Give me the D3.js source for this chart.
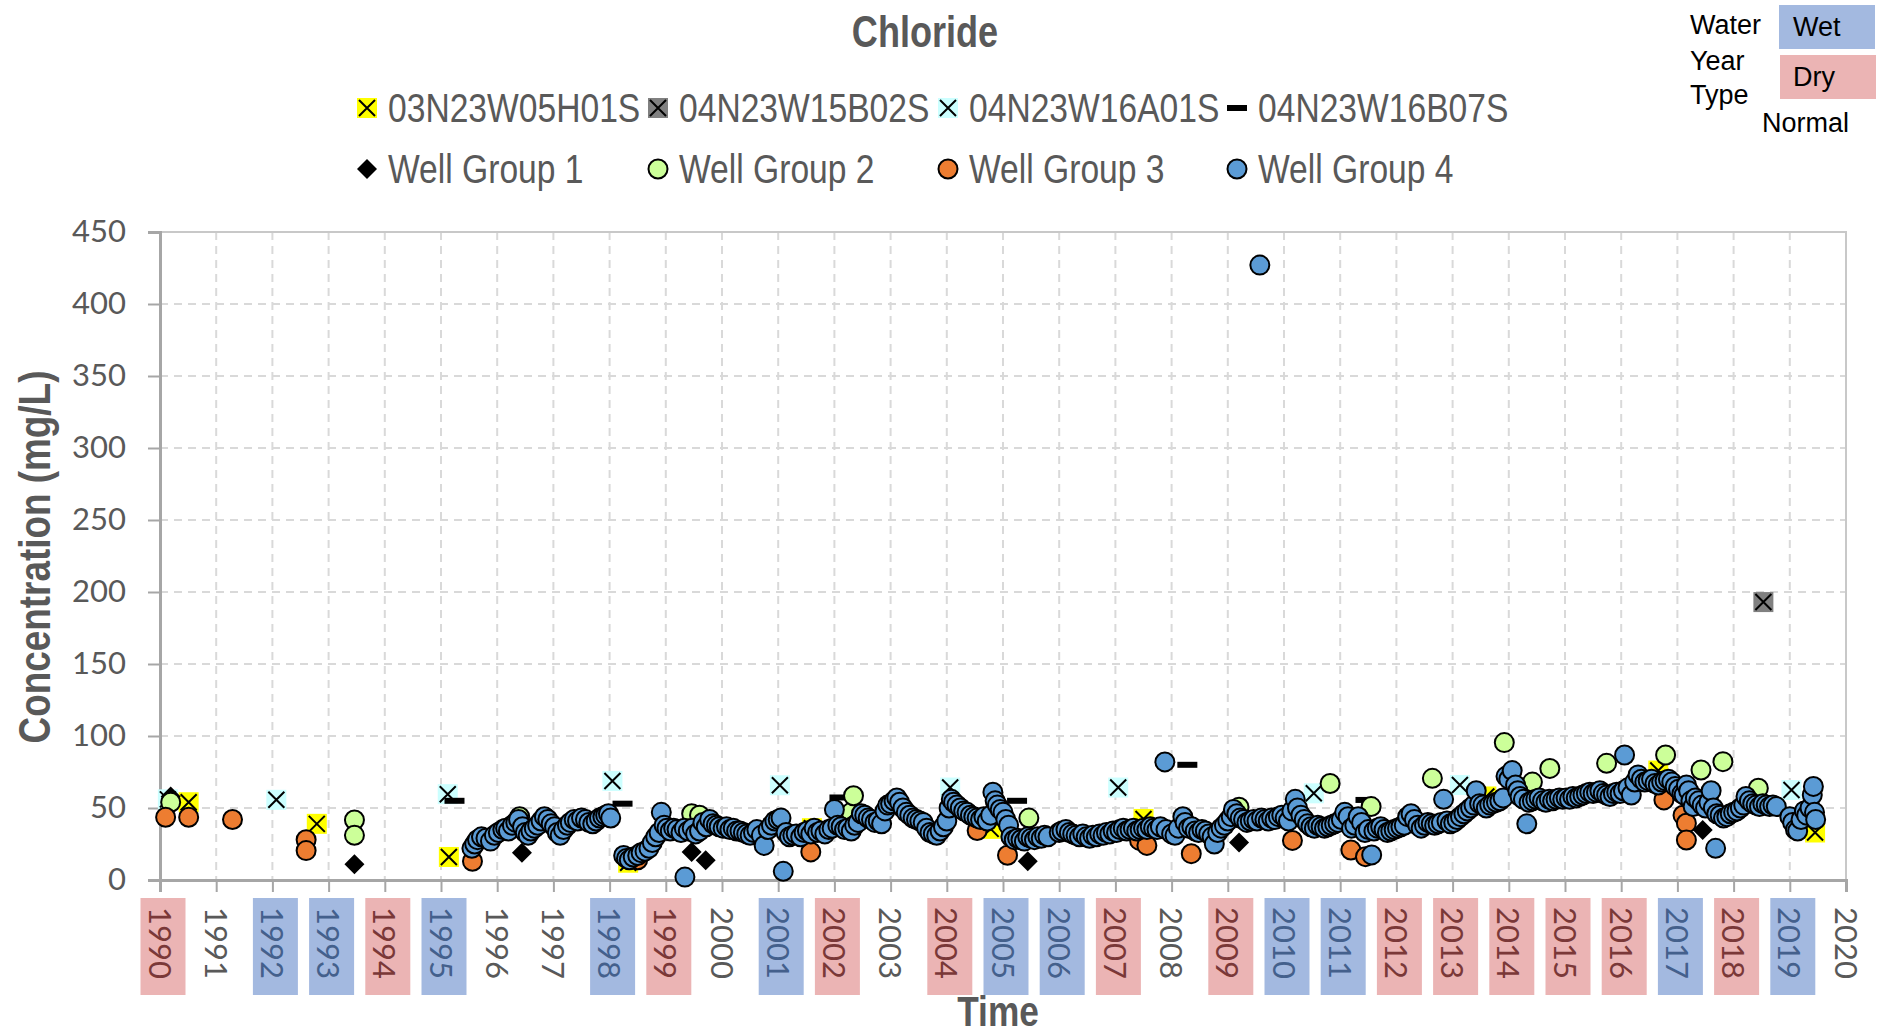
<!DOCTYPE html>
<html>
<head>
<meta charset="utf-8">
<script src="https://cdn.jsdelivr.net/npm/d3@7"></script>
<style>
  html, body { margin: 0; padding: 0; background: #fff; }
  svg { display: block; }
</style>
</head>
<body>
<svg id="chart" width="1883" height="1035"></svg>
<script>
// ---------------- DATA ----------------
const yTicks = [0, 50, 100, 150, 200, 250, 300, 350, 400, 450];
const xTickYears = d3.range(1990, 2021);
const wetYears = [1992, 1993, 1995, 1998, 2001, 2005, 2006, 2010, 2011, 2017, 2019];
const dryYears = [1990, 1994, 1999, 2002, 2004, 2007, 2009, 2012, 2013, 2014, 2015, 2016, 2018];

const seriesNames = ["03N23W05H01S", "04N23W15B02S", "04N23W16A01S", "04N23W16B07S",
  "Well Group 1", "Well Group 2", "Well Group 3", "Well Group 4"];

// [decimal year, mg/L]
const s03N23W05H01S = [[1990.51, 54], [1992.79, 39], [1995.14, 16], [1998.33, 12], [2001.6, 36],
  [2004.78, 35.5], [2007.5, 42.4], [2013.6, 58], [2016.66, 76], [2019.45, 33]];
const s04N23W15B02S = [[2018.53, 193]];
const s04N23W16A01S = [[1990.14, 56], [1992.07, 55.7], [1995.12, 59.6], [1998.05, 68.8], [2001.03, 65.8],
  [2004.06, 64.2], [2007.05, 64.2], [2010.53, 60.2], [2013.13, 66], [2019.03, 62.5]];
const s04N23W16B07S = [[1995.24, 55], [1998.23, 53], [2002.09, 57.3], [2005.25, 55], [2008.28, 80], [2011.45, 55.6]];
const wg1 = [[1990.19, 58], [1993.46, 11], [1996.44, 19], [1999.46, 19.5], [1999.71, 13.8], [2005.44, 13],
  [2009.2, 26], [2017.45, 34.7]];
const wg2 = [[1990.19, 54], [1993.46, 41.7], [1993.46, 31], [1996.4, 44], [1999.46, 46], [1999.6, 45],
  [2002.3, 47], [2002.34, 58.5], [2005.46, 43], [2009.18, 48], [2009.2, 50.5], [2010.82, 67], [2011.55, 51],
  [2012.64, 70.6], [2013.92, 95.4], [2014.42, 68], [2014.73, 77.5], [2015.74, 81], [2016.79, 86.8],
  [2017.42, 76.4], [2017.81, 82.2], [2018.44, 63.7]];
const wg3 = [[1990.1, 43.6], [1990.51, 43.6], [1991.29, 42], [1992.6, 28], [1992.6, 20.4], [1995.56, 13],
  [1998.5, 14], [2001.58, 19.5], [2004.54, 34.4], [2005.08, 17.2], [2007.43, 27.5], [2007.56, 24],
  [2008.35, 18.3], [2010.15, 27.5], [2011.19, 20.8], [2011.45, 16.2], [2016.76, 55.6], [2017.1, 45],
  [2017.16, 39.4], [2017.16, 27.8]];
const wg4 = [
  [1995.55, 22], [1995.6, 25], [1995.65, 28], [1995.72, 30], [1995.8, 29], [1995.88, 27], [1995.95, 31],
  [1996.02, 33], [1996.1, 35], [1996.15, 36], [1996.2, 34], [1996.27, 38], [1996.33, 40], [1996.38, 42],
  [1996.45, 37], [1996.5, 33], [1996.55, 31], [1996.6, 34], [1996.66, 36], [1996.72, 38], [1996.78, 41],
  [1996.84, 44], [1996.9, 42], [1996.96, 39], [1997.02, 37], [1997.07, 33], [1997.12, 31], [1997.18, 35],
  [1997.25, 38], [1997.3, 40], [1997.37, 42], [1997.43, 41], [1997.5, 43], [1997.57, 42], [1997.63, 40],
  [1997.7, 39], [1997.76, 41], [1997.82, 43], [1997.88, 44], [1997.93, 45], [1997.98, 46], [1998.02, 43],
  [1998.25, 17], [1998.3, 15], [1998.35, 14], [1998.42, 16], [1998.5, 17], [1998.56, 19], [1998.63, 20],
  [1998.7, 22], [1998.76, 26], [1998.82, 30], [1998.88, 33], [1998.92, 47], [1998.97, 38], [1999.02, 36],
  [1999.08, 34], [1999.14, 36], [1999.2, 35], [1999.27, 33], [1999.33, 36], [1999.34, 2], [1999.4, 34],
  [1999.47, 36], [1999.53, 32], [1999.6, 34], [1999.66, 40], [1999.72, 37], [1999.78, 42], [1999.84, 39],
  [1999.9, 38], [1999.95, 37],
  [2000.02, 36], [2000.08, 37], [2000.14, 35], [2000.2, 36], [2000.26, 34], [2000.32, 34], [2000.38, 33],
  [2000.44, 32], [2000.5, 31], [2000.56, 33], [2000.62, 35], [2000.7, 31], [2000.75, 24], [2000.82, 35],
  [2000.88, 38], [2000.94, 41], [2001.0, 42], [2001.05, 43], [2001.09, 6], [2001.14, 33], [2001.2, 30],
  [2001.26, 31], [2001.32, 32], [2001.4, 30], [2001.46, 33], [2001.52, 34], [2001.58, 32], [2001.64, 36],
  [2001.7, 33], [2001.76, 34], [2001.83, 32], [2001.9, 35], [2001.96, 36],
  [2002.0, 49], [2002.06, 38], [2002.12, 37], [2002.18, 35], [2002.24, 36], [2002.3, 34], [2002.36, 38],
  [2002.42, 40], [2002.48, 46], [2002.54, 45], [2002.6, 43], [2002.66, 42], [2002.72, 40], [2002.78, 41],
  [2002.84, 39], [2002.9, 48], [2002.95, 52], [2003.0, 53], [2003.06, 55], [2003.11, 57], [2003.16, 54],
  [2003.22, 50], [2003.28, 47], [2003.34, 45], [2003.4, 43], [2003.46, 42], [2003.52, 41], [2003.58, 40],
  [2003.64, 36], [2003.7, 33], [2003.76, 32], [2003.82, 31], [2003.88, 34], [2003.94, 37], [2004.0, 41],
  [2004.04, 50], [2004.08, 56], [2004.12, 54], [2004.18, 52], [2004.24, 50], [2004.3, 48], [2004.36, 47],
  [2004.42, 45], [2004.48, 44], [2004.54, 43], [2004.6, 42], [2004.66, 44], [2004.72, 41], [2004.78, 45],
  [2004.82, 61], [2004.86, 55], [2004.9, 52], [2004.95, 49], [2005.0, 47], [2005.05, 42], [2005.1, 38],
  [2005.14, 30], [2005.2, 28], [2005.26, 29], [2005.32, 28], [2005.38, 27], [2005.44, 30], [2005.5, 29],
  [2005.56, 28], [2005.62, 30], [2005.68, 29], [2005.74, 31], [2005.8, 30],
  [2006.0, 33], [2006.05, 34], [2006.12, 35], [2006.18, 33], [2006.24, 32], [2006.3, 31], [2006.36, 30],
  [2006.42, 32], [2006.48, 30], [2006.54, 29], [2006.6, 31], [2006.66, 30], [2006.72, 32], [2006.78, 31],
  [2006.84, 33], [2006.9, 32], [2006.96, 34], [2007.02, 33], [2007.08, 35], [2007.14, 36], [2007.2, 34],
  [2007.26, 35], [2007.32, 36], [2007.38, 34], [2007.44, 35], [2007.5, 36], [2007.56, 35], [2007.62, 37],
  [2007.68, 36], [2007.74, 35], [2007.8, 37], [2007.88, 82], [2007.9, 35], [2008.0, 32], [2008.06, 31],
  [2008.12, 36], [2008.2, 44], [2008.24, 40], [2008.3, 36], [2008.36, 37], [2008.42, 34], [2008.48, 33],
  [2008.54, 35], [2008.6, 34], [2008.66, 32], [2008.72, 30], [2008.76, 25], [2008.82, 33], [2008.88, 36],
  [2008.94, 38], [2009.0, 41], [2009.06, 44], [2009.1, 49], [2009.16, 46], [2009.22, 43], [2009.28, 42],
  [2009.34, 40], [2009.4, 41], [2009.46, 42], [2009.52, 41], [2009.57, 427], [2009.6, 43], [2009.66, 42],
  [2009.72, 41], [2009.78, 43], [2009.84, 42], [2009.9, 44], [2009.96, 45],
  [2010.02, 43], [2010.08, 41], [2010.14, 48], [2010.2, 56], [2010.24, 50], [2010.3, 45], [2010.36, 42],
  [2010.42, 39], [2010.48, 37], [2010.54, 36], [2010.6, 38], [2010.66, 37], [2010.72, 36], [2010.78, 37],
  [2010.84, 38], [2010.9, 39], [2010.96, 40], [2011.02, 42], [2011.08, 47], [2011.14, 44], [2011.2, 36],
  [2011.26, 38], [2011.32, 44], [2011.38, 40], [2011.44, 33], [2011.5, 35], [2011.56, 17.4], [2011.6, 34],
  [2011.66, 36], [2011.72, 37], [2011.78, 35], [2011.84, 33], [2011.9, 34], [2011.96, 35],
  [2012.02, 36], [2012.08, 37], [2012.14, 38], [2012.2, 44], [2012.26, 46], [2012.32, 42], [2012.38, 38],
  [2012.44, 36], [2012.5, 38], [2012.56, 40], [2012.62, 39], [2012.68, 38], [2012.74, 39], [2012.8, 40],
  [2012.84, 56], [2012.9, 41], [2012.96, 39], [2013.02, 40], [2013.08, 42], [2013.14, 44], [2013.2, 46],
  [2013.26, 48], [2013.32, 50], [2013.38, 52], [2013.42, 62], [2013.48, 53], [2013.54, 52], [2013.6, 50],
  [2013.66, 52], [2013.72, 53], [2013.78, 54], [2013.84, 55], [2013.9, 57], [2013.95, 72], [2014.0, 70],
  [2014.06, 76], [2014.12, 66], [2014.16, 62], [2014.2, 58], [2014.26, 56], [2014.32, 39], [2014.36, 54],
  [2014.42, 55], [2014.48, 56], [2014.54, 57], [2014.6, 55], [2014.66, 54], [2014.72, 56], [2014.78, 55],
  [2014.84, 56], [2014.9, 57], [2014.96, 56],
  [2015.02, 57], [2015.08, 56], [2015.14, 58], [2015.2, 57], [2015.26, 58], [2015.32, 59], [2015.38, 60],
  [2015.44, 61], [2015.5, 60], [2015.56, 61], [2015.62, 62], [2015.68, 60], [2015.74, 59], [2015.8, 58],
  [2015.86, 60], [2015.92, 61], [2015.98, 60], [2016.04, 62], [2016.06, 86.8], [2016.12, 64], [2016.18, 59],
  [2016.24, 68], [2016.3, 73], [2016.36, 70], [2016.42, 68], [2016.48, 69], [2016.54, 70], [2016.6, 67],
  [2016.66, 66], [2016.72, 68], [2016.78, 69], [2016.84, 70], [2016.9, 68], [2016.96, 65],
  [2017.02, 63], [2017.08, 60], [2017.12, 59], [2017.16, 66], [2017.2, 62], [2017.24, 55], [2017.28, 51],
  [2017.32, 57], [2017.38, 55], [2017.44, 52], [2017.5, 50], [2017.56, 54], [2017.6, 62], [2017.64, 50],
  [2017.68, 22], [2017.7, 46], [2017.76, 45], [2017.82, 43], [2017.88, 44], [2017.94, 46], [2018.0, 47],
  [2018.06, 48], [2018.12, 50], [2018.18, 52], [2018.22, 58], [2018.28, 55], [2018.34, 53], [2018.4, 52],
  [2018.46, 51], [2018.52, 53], [2018.58, 52], [2018.64, 51], [2018.7, 52], [2018.76, 51],
  [2019.0, 44], [2019.05, 40], [2019.1, 35], [2019.14, 34], [2019.2, 42], [2019.26, 48], [2019.3, 45],
  [2019.36, 50], [2019.4, 59], [2019.42, 65], [2019.44, 47], [2019.46, 42]
];

// ---------------- LAYOUT ----------------
const svg = d3.select("#chart");
const plot = { left: 160, right: 1846, top: 232, bottom: 880 };
const x = d3.scaleLinear().domain([1990, 2020]).range([plot.left, plot.right]);
const y = d3.scaleLinear().domain([0, 450]).range([plot.bottom, plot.top]);

const sansFont = "'Liberation Sans', Arial, sans-serif";
const tickFont = "Lato, 'Open Sans', sans-serif";
const gray = "#595959";
const NARROW = 0.82; // Arial Narrow is ~82% the width of Arial

// condensed text helper: Liberation Sans squeezed horizontally
function narrowText(parent, tx, ty, str, size, weight, anchor, rot) {
  return parent.append("text")
    .attr("transform", `translate(${tx},${ty})${rot ? ` rotate(${rot})` : ""} scale(${NARROW},1)`)
    .attr("text-anchor", anchor || "start")
    .attr("font-family", sansFont).attr("font-size", size).attr("font-weight", weight || "normal")
    .attr("fill", gray).text(str);
}

// gridlines
const grid = svg.append("g");
grid.selectAll("line.h").data(yTicks.filter(d => d > 0 && d < 450)).join("line")
  .attr("x1", plot.left).attr("x2", plot.right)
  .attr("y1", d => y(d)).attr("y2", d => y(d))
  .attr("stroke", "#d9d9d9").attr("stroke-width", 2).attr("stroke-dasharray", "8,6");
grid.selectAll("line.v").data(xTickYears.filter(d => d > 1990 && d < 2020)).join("line")
  .attr("x1", d => x(d)).attr("x2", d => x(d))
  .attr("y1", plot.top).attr("y2", plot.bottom)
  .attr("stroke", "#d9d9d9").attr("stroke-width", 2).attr("stroke-dasharray", "8,6");

// plot border
svg.append("rect").attr("x", plot.left).attr("y", plot.top)
  .attr("width", plot.right - plot.left).attr("height", plot.bottom - plot.top)
  .attr("fill", "none").attr("stroke", "#c8c8c8").attr("stroke-width", 2);

// Y axis
const yAxis = d3.axisLeft(y).tickValues(yTicks).tickSize(12).tickPadding(22);
const gy = svg.append("g").attr("transform", `translate(${plot.left},0)`).call(yAxis);
gy.select(".domain").attr("stroke", "#a6a6a6").attr("stroke-width", 3);
gy.selectAll(".tick line").attr("stroke", "#a6a6a6").attr("stroke-width", 2);
gy.selectAll(".tick text").attr("font-family", tickFont).attr("font-size", 31).attr("fill", gray);

// year-type boxes behind x labels
const boxW = 45, boxTop = 898, boxH = 97;
const yearType = yr => wetYears.includes(yr) ? "wet" : dryYears.includes(yr) ? "dry" : "normal";
const boxFill = { wet: "#a3b9e0", dry: "#ebb4b4" };
const labelFill = { wet: "#44608c", dry: "#7a3838", normal: gray };
svg.append("g").selectAll("rect").data(xTickYears.filter(yr => yearType(yr) !== "normal")).join("rect")
  .attr("x", d => x(d) + 3 - boxW / 2).attr("y", boxTop)
  .attr("width", boxW).attr("height", boxH)
  .attr("fill", d => boxFill[yearType(d)]);

// X axis
const xAxis = d3.axisBottom(x).tickValues(xTickYears).tickSize(12).tickFormat(d3.format("d"));
const gx = svg.append("g").attr("transform", `translate(0,${plot.bottom})`).call(xAxis);
gx.select(".domain").attr("stroke", "#a6a6a6").attr("stroke-width", 3);
gx.selectAll(".tick line").attr("stroke", "#a6a6a6").attr("stroke-width", 2);
gx.selectAll(".tick text")
  .attr("font-family", tickFont).attr("font-size", 31)
  .attr("fill", d => labelFill[yearType(d)])
  .attr("text-anchor", "start").attr("dy", null).attr("y", 0)
  .attr("dominant-baseline", "central")
  .attr("transform", "translate(0,27) rotate(90)");

// axis titles and chart title
narrowText(svg, 998, 1026, "Time", 43, "bold", "middle");
narrowText(svg, 50, 557, "Concentration (mg/L)", 45, "bold", "middle", -90);
narrowText(svg, 925, 47, "Chloride", 44, "bold", "middle");

// ---------------- MARKERS ----------------
const styles = [
  { type: "xbox", fill: "#ffff00" },
  { type: "xbox", fill: "#808080" },
  { type: "xbox", fill: "#ccffff" },
  { type: "dash", fill: "#000" },
  { type: "diamond", fill: "#000" },
  { type: "circle", fill: "#ccff99" },
  { type: "circle", fill: "#ed7d31" },
  { type: "circle", fill: "#5b9bd5" }
];
const allSeries = [s03N23W05H01S, s04N23W15B02S, s04N23W16A01S, s04N23W16B07S, wg1, wg2, wg3, wg4];

function drawMarker(g, st) {
  if (st.type === "xbox") {
    g.append("rect").attr("x", -10).attr("y", -10).attr("width", 20).attr("height", 20).attr("fill", st.fill);
    g.append("path").attr("d", "M-8,-8L8,8M-8,8L8,-8").attr("stroke", "#000").attr("stroke-width", 2);
  } else if (st.type === "dash") {
    g.append("rect").attr("x", -10).attr("y", -3).attr("width", 20).attr("height", 6).attr("fill", "#000");
  } else if (st.type === "diamond") {
    g.append("path").attr("d", "M0,-10L10,0L0,10L-10,0Z").attr("fill", "#000");
  } else {
    g.append("circle").attr("r", 9.5).attr("fill", st.fill).attr("stroke", "#000").attr("stroke-width", 2);
  }
}

const pts = svg.append("g");
allSeries.forEach((data, i) => {
  pts.append("g").selectAll("g").data(data).join("g")
    .attr("transform", d => `translate(${x(d[0])},${y(d[1])})`)
    .each(function () { drawMarker(d3.select(this), styles[i]); });
});

// ---------------- LEGEND ----------------
const legendCols = [367, 658, 948, 1237];
const legendRows = [108, 169];
const leg = svg.append("g");
seriesNames.forEach((name, i) => {
  const cx = legendCols[i % 4], cy = legendRows[Math.floor(i / 4)];
  const g = leg.append("g").attr("transform", `translate(${cx},${cy})`);
  drawMarker(g, styles[i]);
  narrowText(leg, cx + 21, cy + 14, name, 41, "normal", "start");
});

// Water year type key
const key = svg.append("g").attr("font-family", sansFont).attr("font-size", 27).attr("fill", "#000");
key.append("rect").attr("x", 1779).attr("y", 5).attr("width", 96).attr("height", 44).attr("fill", "#a3b9e0");
key.append("rect").attr("x", 1780).attr("y", 55).attr("width", 96).attr("height", 44).attr("fill", "#ebb4b4");
key.append("text").attr("x", 1690).attr("y", 34).text("Water");
key.append("text").attr("x", 1690).attr("y", 70).text("Year");
key.append("text").attr("x", 1690).attr("y", 104).text("Type");
key.append("text").attr("x", 1793).attr("y", 36).text("Wet");
key.append("text").attr("x", 1793).attr("y", 86).text("Dry");
key.append("text").attr("x", 1762).attr("y", 132).text("Normal");
</script>
</body>
</html>
